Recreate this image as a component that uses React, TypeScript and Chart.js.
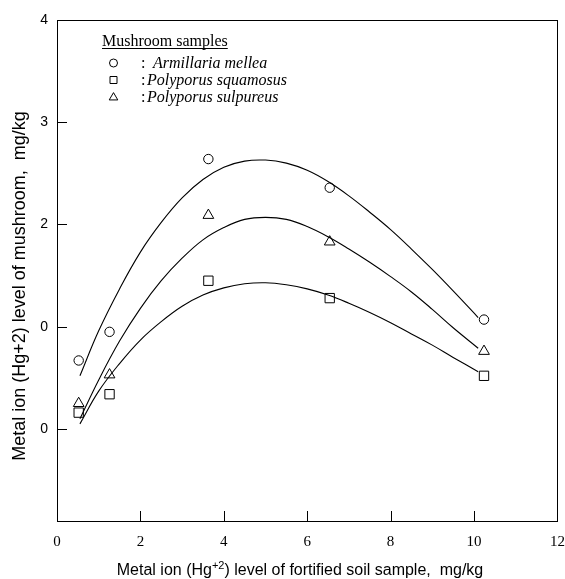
import React, { useEffect, useRef } from "react";
import { Chart, registerables } from "chart.js";

Chart.register(...registerables);

// Measured samples
const sampleX = [0.52, 1.26, 3.63, 6.54, 10.24];
const armillaria = [0.67, 0.95, 2.64, 2.36, 1.07];
const squamosus = [0.16, 0.34, 1.45, 1.28, 0.52];
const sulpureus = [0.25, 0.53, 2.09, 1.83, 0.76];

// Fitted curves
const curveX = [0.55, 1.0, 1.5, 2.0, 2.5, 3.0, 3.5, 4.0, 4.5, 5.0, 5.5, 6.0, 6.5, 7.0, 7.5, 8.0, 8.5, 9.0, 9.5, 10.1];
const armillariaFit = [0.52, 0.96, 1.37, 1.73, 2.02, 2.26, 2.44, 2.56, 2.62, 2.63, 2.6, 2.53, 2.42, 2.28, 2.12, 1.95, 1.76, 1.56, 1.35, 1.09];
const sulpureusFit = [0.1, 0.48, 0.86, 1.18, 1.45, 1.67, 1.85, 1.97, 2.05, 2.07, 2.05, 1.98, 1.88, 1.76, 1.63, 1.49, 1.34, 1.17, 0.99, 0.79];
const squamosusFit = [0.05, 0.37, 0.64, 0.87, 1.05, 1.2, 1.31, 1.38, 1.42, 1.43, 1.41, 1.37, 1.31, 1.23, 1.14, 1.04, 0.93, 0.82, 0.7, 0.56];

// Axes
const xTickValues = [0, 2, 4, 6, 8, 10, 12];
const xTickLabels = ["0", "2", "4", "6", "8", "10", "12"];
const yTickValues = [0, 1, 2, 3, 4];
const yTickLabels = ["0", "0", "2", "3", "4"];

const legendTitle = "Mushroom samples";
const legendNames = ["Armillaria mellea", "Polyporus squamosus", "Polyporus sulpureus"];
const yTitle = "Metal ion (Hg+2) level of mushroom,  mg/kg";
const xTitleParts = ["Metal ion (Hg", "+2", ") level of fortified soil sample,  mg/kg"];

const SANS = '"Liberation Sans", Arial, sans-serif';
const SERIF = '"Liberation Serif", "Times New Roman", serif';

function drawMarker(ctx: CanvasRenderingContext2D, kind: string, x: number, y: number, s: number) {
  ctx.beginPath();
  if (kind === "circle") {
    ctx.arc(x, y, s, 0, Math.PI * 2);
  } else if (kind === "rect") {
    ctx.rect(x - s, y - s, 2 * s, 2 * s);
  } else {
    const h = s * 1.7;
    ctx.moveTo(x, y - h * 0.6);
    ctx.lineTo(x + s, y + h * 0.4);
    ctx.lineTo(x - s, y + h * 0.4);
    ctx.closePath();
  }
  ctx.stroke();
}

const decorPlugin = {
  id: "decor",
  afterDraw(chart: any) {
    const { ctx, chartArea: a, scales } = chart;
    ctx.save();
    ctx.strokeStyle = "#000";
    ctx.fillStyle = "#000";
    ctx.lineWidth = 1;
    // frame
    ctx.strokeRect(Math.round(a.left) + 0.5, Math.round(a.top) + 0.5, Math.round(a.right - a.left), Math.round(a.bottom - a.top));
    // inside ticks
    ctx.beginPath();
    yTickValues.forEach((v) => {
      const y = Math.round(scales.y.getPixelForValue(v)) + 0.5;
      ctx.moveTo(a.left, y);
      ctx.lineTo(a.left + 10, y);
    });
    xTickValues.forEach((v) => {
      const x = Math.round(scales.x.getPixelForValue(v)) + 0.5;
      ctx.moveTo(x, a.bottom);
      ctx.lineTo(x, a.bottom - 10);
    });
    ctx.stroke();

    // x tick labels
    ctx.font = `15px ${SERIF}`;
    ctx.textAlign = "center";
    ctx.textBaseline = "middle";
    xTickValues.forEach((v, i) => {
      ctx.fillText(xTickLabels[i], scales.x.getPixelForValue(v), a.bottom + 21);
    });

    // y title
    ctx.save();
    ctx.translate(20, 286);
    ctx.rotate(-Math.PI / 2);
    ctx.font = `18px ${SANS}`;
    ctx.textAlign = "center";
    ctx.textBaseline = "middle";
    ctx.fillText(yTitle, 0, 0);
    ctx.restore();

    // x title with superscript
    ctx.textAlign = "left";
    ctx.textBaseline = "alphabetic";
    const big = `16px ${SANS}`;
    const small = `11px ${SANS}`;
    ctx.font = big;
    const w1 = ctx.measureText(xTitleParts[0]).width;
    const w3 = ctx.measureText(xTitleParts[2]).width;
    ctx.font = small;
    const w2 = ctx.measureText(xTitleParts[1]).width;
    let x0 = 300 - (w1 + w2 + w3) / 2;
    const base = 575;
    ctx.font = big;
    ctx.fillText(xTitleParts[0], x0, base);
    x0 += w1;
    ctx.font = small;
    ctx.fillText(xTitleParts[1], x0, base - 6);
    x0 += w2;
    ctx.font = big;
    ctx.fillText(xTitleParts[2], x0, base);

    // legend
    ctx.font = `16px ${SERIF}`;
    ctx.fillText(legendTitle, 102, 46);
    const tw = ctx.measureText(legendTitle).width;
    ctx.beginPath();
    ctx.moveTo(102, 48.5);
    ctx.lineTo(102 + tw, 48.5);
    ctx.stroke();
    const kinds = ["circle", "rect", "triangle"];
    const rowsY = [63, 80, 97];
    const nameX = [153, 147, 147];
    kinds.forEach((k, i) => {
      drawMarker(ctx, k, 113.5, rowsY[i], k === "circle" ? 4 : k === "rect" ? 3.5 : 4.3);
      ctx.font = `16px ${SERIF}`;
      ctx.fillText(":", 141, rowsY[i] + 5);
      ctx.font = `italic 16px ${SERIF}`;
      ctx.fillText(legendNames[i], nameX[i], rowsY[i] + 5);
    });
    ctx.restore();
  },
};

export default function App() {
  const ref = useRef<HTMLCanvasElement>(null);
  useEffect(() => {
    document.body.style.margin = "0";
    const toXY = (xs: number[], ys: number[]) => xs.map((x, i) => ({ x, y: ys[i] }));
    const curve = (ys: number[]) => ({
      type: "line" as const,
      data: toXY(curveX, ys),
      borderColor: "#000",
      borderWidth: 1.1,
      pointRadius: 0,
      tension: 0.4,
      fill: false,
    });
    const pts = (ys: number[], style: string, r: number) => ({
      type: "scatter" as const,
      data: toXY(sampleX, ys),
      pointStyle: style,
      pointRadius: r,
      borderColor: "#000",
      backgroundColor: "rgba(0,0,0,0)",
      borderWidth: 1,
      showLine: false,
    });
    const chart = new Chart(ref.current!, {
      type: "scatter",
      data: {
        datasets: [
          curve(armillariaFit),
          curve(sulpureusFit),
          curve(squamosusFit),
          pts(armillaria, "circle", 4.7),
          pts(squamosus, "rect", 6.6),
          pts(sulpureus, "triangle", 6.2),
        ] as any,
      },
      options: {
        animation: false,
        responsive: false,
        layout: { padding: { left: 0, top: 20, right: 4, bottom: 0 } },
        plugins: { legend: { display: false }, tooltip: { enabled: false } },
        scales: {
          x: {
            type: "linear",
            min: 0,
            max: 12,
            afterBuildTicks: (s: any) => {
              s.ticks = xTickValues.map((v) => ({ value: v }));
            },
            afterFit: (s: any) => {
              s.height = 58;
            },
            grid: { display: false, drawTicks: false },
            border: { display: false },
            ticks: { display: false },
          },
          y: {
            type: "linear",
            min: -0.9,
            max: 4,
            afterBuildTicks: (s: any) => {
              s.ticks = yTickValues.map((v) => ({ value: v }));
            },
            afterFit: (s: any) => {
              s.width = 57;
            },
            grid: { display: false, drawTicks: false },
            border: { display: false },
            ticks: {
              color: "#000",
              font: { family: SANS, size: 14 },
              padding: 9,
              callback: (v: any) => {
                const i = yTickValues.indexOf(Number(v));
                return i >= 0 ? yTickLabels[i] : "";
              },
            },
          },
        },
      },
      plugins: [decorPlugin],
    });
    return () => chart.destroy();
  }, []);
  return (
    <div style={{ width: 565, height: 579, background: "#fff" }}>
      <canvas ref={ref} width={565} height={579} />
    </div>
  );
}
